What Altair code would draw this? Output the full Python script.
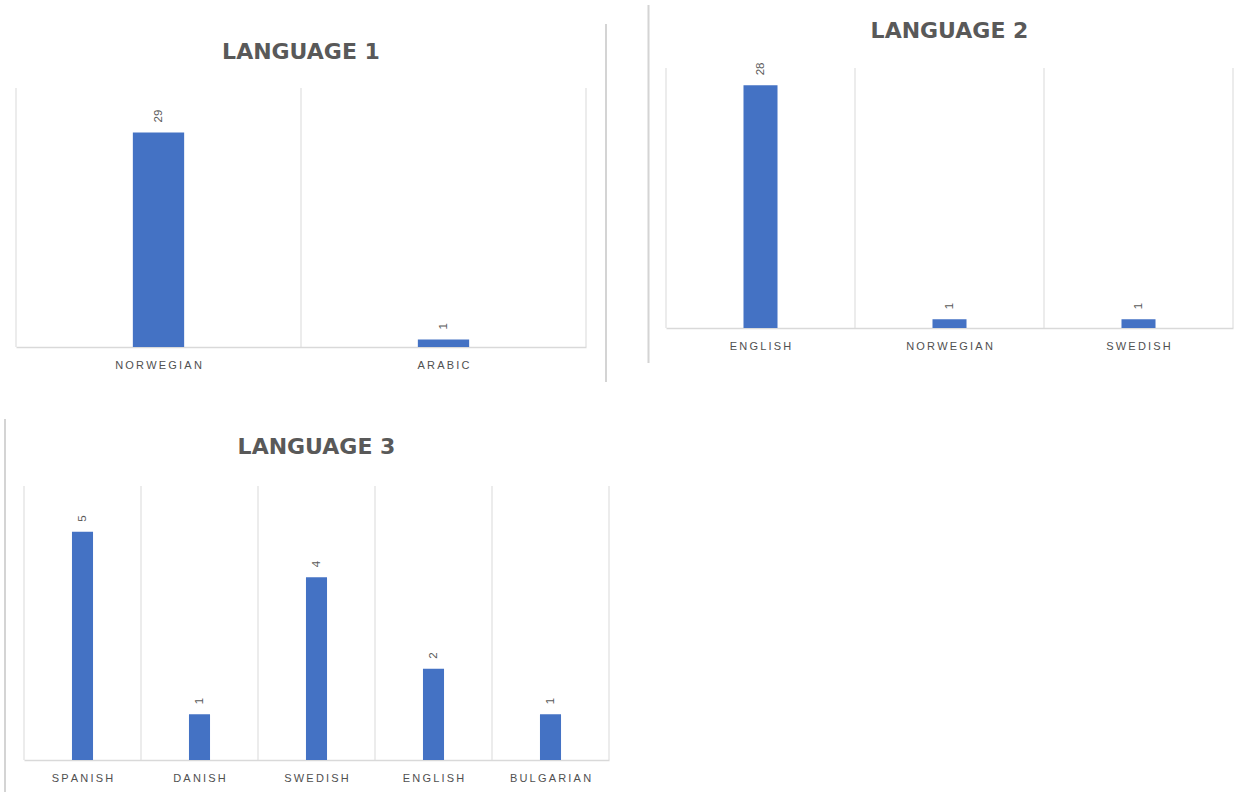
import altair as alt
import pandas as pd

# Counts of languages for three survey questions
lang1_names = ["NORWEGIAN", "ARABIC"]
lang1_counts = [29, 1]

lang2_names = ["ENGLISH", "NORWEGIAN", "SWEDISH"]
lang2_counts = [28, 1, 1]

lang3_names = ["SPANISH", "DANISH", "SWEDISH", "ENGLISH", "BULGARIAN"]
lang3_counts = [5, 1, 4, 2, 1]

# Hidden value-axis maxima of each panel
axis_max = [35, 30, 6]

BAR = "#4472C4"
TEXT = "#595959"
LINE = "#d9d9d9"
EDGE = "#d4d4d4"
SPACED = "join(split(datum.label, ''), '\u2009')"


def panel(title, names, counts, ymax, width, height, title_offset,
          title_dx=0, x_range=None, y_range=None):
    df = pd.DataFrame({"language": names, "count": counts})
    xs = dict(domain=names, paddingInner=0, paddingOuter=0)
    if x_range:
        xs["range"] = x_range
    ys = dict(domain=[0, ymax])
    if y_range:
        ys["range"] = y_range
    x_scale = alt.Scale(**xs)
    y_scale = alt.Scale(**ys)
    x_axis = alt.Axis(title=None, ticks=False, grid=False, labelAngle=0,
                      labelExpr=SPACED, labelFont="Liberation Sans",
                      labelFontSize=11, labelColor="#505050", labelPadding=12,
                      domainColor=LINE, domainWidth=1.5)

    base = alt.Chart(df)
    bars = base.mark_bar(width=alt.RelativeBandSize(0.18), color=BAR).encode(
        x=alt.X("language:N", scale=x_scale, axis=x_axis),
        y=alt.Y("count:Q", scale=y_scale, axis=None),
    )
    values = base.mark_text(angle=270, align="left", baseline="middle", dx=10,
                            font="Liberation Sans", fontSize=11.5,
                            color=TEXT).encode(
        x=alt.X("language:N", scale=x_scale, axis=x_axis),
        y=alt.Y("count:Q", scale=y_scale, axis=None),
        text="count:Q",
    )
    # vertical separators between categories and at both ends
    seps = base.mark_rule(color=LINE, strokeWidth=1).encode(
        x=alt.X("language:N", bandPosition=0, scale=x_scale, axis=x_axis),
        y=alt.Y(datum=ymax, scale=y_scale, axis=None),
        y2=alt.Y2(datum=0),
    )
    end = base.transform_filter(
        alt.datum.language == names[-1]
    ).mark_rule(color=LINE, strokeWidth=1).encode(
        x=alt.X("language:N", bandPosition=1, scale=x_scale, axis=x_axis),
        y=alt.Y(datum=ymax, scale=y_scale, axis=None),
        y2=alt.Y2(datum=0),
    )
    return alt.layer(seps, end, bars, values).properties(
        width=width,
        height=height,
        title=alt.TitleParams(title, font="DejaVu Sans", fontSize=22,
                              fontWeight="bold", color=TEXT, anchor="middle",
                              offset=title_offset, dx=title_dx),
    )


p1 = panel("LANGUAGE 1", lang1_names, lang1_counts, axis_max[0],
           width=570, height=279, title_offset=4, y_range=[279, 20])
p2 = panel("LANGUAGE 2", lang2_names, lang2_counts, axis_max[1],
           width=567, height=260, title_offset=20)
p3 = panel("LANGUAGE 3", lang3_names, lang3_counts, axis_max[2],
           width=593, height=274, title_offset=27, title_dx=4,
           x_range=[8, 593])

# thin grey edges framing the three panels
edge_x = [-60, -17.5, -661]
edge_y1 = [-462, -481, -67]
edge_y2 = [-104, -123, 306]
frame = alt.layer(*[
    alt.Chart(pd.DataFrame({"edge": [i]})).mark_rule(
        color=EDGE, strokeWidth=2
    ).encode(x=alt.value(ex), y=alt.value(a), y2=alt.value(b))
    for i, (ex, a, b) in enumerate(zip(edge_x, edge_y1, edge_y2))
]).properties(width=567, height=274)

chart = alt.concat(
    p1, p2, p3, frame, columns=2, bounds="flush",
    spacing={"row": 139, "column": 57},
).properties(
    padding={"left": 4, "top": 4, "right": 0, "bottom": 0},
    background="white",
).configure_view(stroke=None)

chart.save("out.html", embed_options={"renderer": "svg", "actions": False})
